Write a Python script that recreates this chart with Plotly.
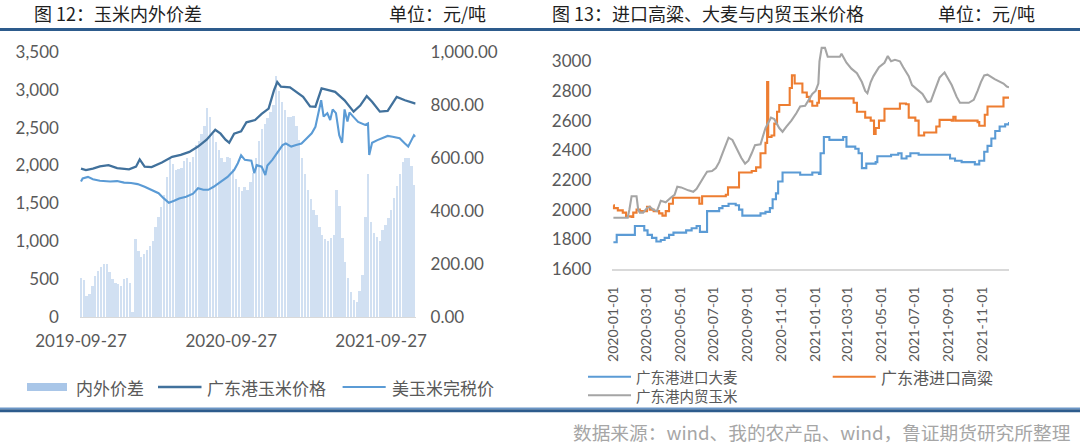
import plotly.graph_objects as go
import pandas as pd

# ---------------- Figure 12 data ----------------
gd_dates = ["2019-09-27","2019-10-09","2019-10-26","2019-11-12","2019-12-03","2019-12-24","2020-01-22","2020-02-08","2020-02-17","2020-02-29",
            "2020-03-17","2020-04-11","2020-05-06","2020-05-27","2020-06-17","2020-07-08","2020-07-29","2020-08-19","2020-09-01","2020-09-13",
            "2020-09-22","2020-10-04","2020-10-21","2020-11-03","2020-11-24","2020-12-10","2020-12-27","2021-01-09","2021-01-17","2021-01-26",
            "2021-02-17","2021-03-04","2021-03-21","2021-04-07","2021-04-20","2021-05-05","2021-05-19","2021-06-07","2021-06-30","2021-07-22",
            "2021-08-07","2021-08-23","2021-09-05","2021-09-24","2021-10-13","2021-11-04","2021-11-24","2021-12-15","2021-12-20"]
gd_vals = [1960,1940,1960,1990,2005,1965,1950,1985,2080,1985,
           1980,2040,2115,2140,2180,2250,2340,2470,2420,2340,
           2300,2420,2450,2570,2600,2680,2750,2990,3100,3040,
           3030,2975,2905,2780,2775,3015,3000,2970,2860,2710,
           2790,2915,2840,2710,2720,2905,2860,2830,2815]

us_dates = ["2019-09-27","2019-10-01","2019-10-14","2019-10-26","2019-11-12","2019-12-07","2019-12-24","2020-01-10","2020-01-27","2020-02-12",
            "2020-02-29","2020-03-17","2020-04-03","2020-04-15","2020-04-28","2020-05-11","2020-05-23","2020-06-09","2020-06-26","2020-07-08",
            "2020-07-21","2020-08-02","2020-08-15","2020-09-01","2020-09-18","2020-10-04","2020-10-13","2020-10-21","2020-10-30","2020-11-15",
            "2020-11-22","2020-11-28","2020-12-10","2020-12-19","2020-12-24","2021-01-05","2021-01-13","2021-01-21","2021-01-30","2021-02-07",
            "2021-02-20","2021-03-04","2021-03-17","2021-03-30","2021-04-11","2021-04-20","2021-04-28","2021-05-04","2021-05-10","2021-05-19",
            "2021-05-26","2021-06-01","2021-06-09","2021-06-17","2021-06-24","2021-06-30","2021-07-07","2021-07-12","2021-07-21","2021-08-02",
            "2021-08-19","2021-08-26","2021-08-29","2021-09-05","2021-09-18","2021-09-30","2021-10-13","2021-10-25","2021-11-11","2021-11-24",
            "2021-12-02","2021-12-10","2021-12-16","2021-12-20"]
us_vals = [1790,1830,1850,1820,1800,1790,1795,1775,1770,1755,
           1720,1680,1635,1570,1510,1535,1565,1590,1630,1700,
           1680,1680,1720,1785,1850,1940,2030,2135,2075,2065,
           1900,2005,1985,1875,2000,2075,2140,2190,2270,2290,
           2250,2270,2290,2360,2425,2510,2710,2860,2645,2690,
           2600,2740,2690,2400,2300,2740,2580,2700,2645,2575,
           2535,2555,2140,2300,2335,2360,2390,2380,2360,2290,
           2250,2335,2400,2380]

spread_start = "2019-09-27"   # weekly observations
spread_vals = [150,140,80,90,120,155,175,190,203,200,
               170,145,130,125,120,145,150,130,20,295,
               250,230,240,255,270,290,340,380,415,460,
               530,600,580,555,560,565,590,600,585,605,
               650,665,690,720,790,755,690,660,630,600,
               585,605,600,560,520,490,475,490,480,510,
               545,600,665,710,730,750,775,800,910,855,
               810,780,755,755,760,720,670,600,540,480,
               445,405,385,340,310,295,290,300,310,480,
               420,300,210,150,95,65,60,100,160,380,
               540,360,320,305,290,330,350,375,405,450,
               495,540,585,600,600,570,500]
spread_dates = pd.date_range(spread_start, periods=len(spread_vals), freq="7D")

left_ticks = ["2019-09-27", "2020-09-27", "2021-09-27"]
left_y_ticks = [0, 500, 1000, 1500, 2000, 2500, 3000, 3500]
right_y_ticks = [0, 200, 400, 600, 800, 1000]

# ---------------- Figure 13 data ----------------
barley_dates = ["2020-01-01","2020-01-07","2020-02-09","2020-02-26","2020-03-03","2020-03-11","2020-03-19","2020-03-27","2020-04-03","2020-04-11",
                "2020-04-19","2020-05-12","2020-05-22","2020-05-31","2020-06-06","2020-06-19","2020-07-11","2020-07-17","2020-07-28","2020-08-10",
                "2020-08-16","2020-08-22","2020-09-18","2020-09-24","2020-10-03","2020-10-11","2020-10-16","2020-10-22","2020-10-26","2020-11-03",
                "2020-12-05","2020-12-27","2021-01-08","2021-01-11","2021-01-17","2021-01-27","2021-02-21","2021-02-27","2021-03-15","2021-03-21",
                "2021-03-27","2021-04-04","2021-04-21","2021-04-24","2021-05-19","2021-06-01","2021-06-07","2021-06-16","2021-06-23","2021-07-08",
                "2021-08-24","2021-09-03","2021-09-12","2021-09-24","2021-10-18","2021-10-26","2021-11-04","2021-11-10","2021-11-17","2021-11-24",
                "2021-12-02","2021-12-12","2021-12-19"]
barley_vals = [1780,1830,1890,1860,1830,1810,1785,1795,1810,1830,
               1845,1860,1875,1890,1850,1990,2010,2025,2040,2030,
               2000,1960,1960,1975,1985,2010,2070,2110,2190,2250,
               2235,2250,2240,2380,2490,2470,2490,2425,2410,2380,
               2280,2310,2320,2360,2370,2380,2345,2360,2380,2370,
               2370,2345,2330,2320,2305,2330,2390,2430,2480,2530,
               2560,2575,2590]

sorghum_dates = ["2020-01-01","2020-01-02","2020-01-09","2020-01-18","2020-01-24","2020-02-03","2020-02-06","2020-02-12","2020-02-18","2020-03-02",
                 "2020-03-07","2020-03-14","2020-03-24","2020-03-30","2020-04-05","2020-04-11","2020-04-18","2020-05-31","2020-06-05","2020-06-10",
                 "2020-07-23","2020-07-27","2020-08-16","2020-09-08","2020-09-16","2020-09-24","2020-10-03","2020-10-06","2020-10-08","2020-10-14",
                 "2020-10-19","2020-10-24","2020-10-28","2020-11-16","2020-11-20","2020-11-25","2020-12-09","2020-12-17","2020-12-22","2020-12-27",
                 "2021-01-05","2021-01-08","2021-01-10","2021-03-05","2021-03-12","2021-03-18","2021-04-02","2021-04-12","2021-04-18","2021-04-21",
                 "2021-04-27","2021-05-07","2021-06-04","2021-06-15","2021-06-20","2021-07-02","2021-07-08","2021-07-18","2021-08-09","2021-08-15",
                 "2021-09-06","2021-09-09","2021-09-13","2021-10-23","2021-10-26","2021-11-05","2021-11-10","2021-12-09","2021-12-19"]
sorghum_vals = [2030,2010,1995,1980,1955,1950,1980,2000,1990,2020,
                2000,1990,1975,1960,1990,2040,2080,2080,2040,2090,
                2100,2150,2250,2260,2285,2380,2450,2860,2490,2500,
                2580,2660,2705,2820,2905,2850,2790,2760,2730,2700,
                2720,2800,2750,2750,2720,2660,2620,2600,2510,2550,
                2600,2680,2715,2710,2620,2600,2500,2520,2560,2605,
                2600,2625,2600,2590,2565,2640,2695,2755,2750]

corn_dates = ["2020-01-01","2020-01-27","2020-01-30","2020-02-03","2020-02-12","2020-02-15","2020-02-18","2020-02-24","2020-03-02","2020-03-07",
              "2020-03-13","2020-03-20","2020-03-27","2020-04-05","2020-04-14","2020-04-21","2020-04-26","2020-05-03","2020-05-16","2020-05-25",
              "2020-05-31","2020-06-06","2020-06-13","2020-06-19","2020-06-28","2020-07-05","2020-07-11","2020-07-17","2020-07-23","2020-07-28",
              "2020-08-04","2020-08-08","2020-08-14","2020-08-20","2020-08-27","2020-09-02","2020-09-08","2020-09-14","2020-09-24","2020-10-03",
              "2020-10-13","2020-10-19","2020-10-28","2020-11-03","2020-11-10","2020-11-19","2020-11-28","2020-12-05","2020-12-14","2020-12-20",
              "2020-12-27","2021-01-02","2021-01-07","2021-01-09","2021-01-13","2021-01-19","2021-01-24","2021-02-15","2021-02-18","2021-02-27",
              "2021-03-08","2021-03-18","2021-03-27","2021-04-02","2021-04-06","2021-04-12","2021-04-17","2021-04-27","2021-05-07","2021-05-13",
              "2021-05-19","2021-05-26","2021-06-04","2021-06-10","2021-06-20","2021-06-26","2021-07-05","2021-07-15","2021-07-24","2021-07-30",
              "2021-08-05","2021-08-15","2021-08-24","2021-08-30","2021-09-06","2021-09-15","2021-09-21","2021-10-07","2021-10-16","2021-10-23",
              "2021-10-29","2021-11-04","2021-11-10","2021-11-23","2021-12-09","2021-12-15","2021-12-19"]
corn_vals = [1945,1945,2000,2090,2090,2000,1980,1980,2010,2020,
             2000,1990,2060,2050,2080,2100,2155,2150,2130,2120,
             2140,2180,2220,2255,2260,2280,2320,2380,2440,2485,
             2470,2440,2400,2350,2310,2330,2380,2435,2440,2550,
             2620,2610,2550,2525,2560,2600,2650,2695,2700,2740,
             2780,2800,2850,3000,3090,3090,3030,3030,3050,2990,
             2950,2920,2860,2800,2785,2860,2900,2960,2990,3035,
             3000,3010,3000,2960,2900,2840,2810,2780,2725,2730,
             2790,2890,2925,2890,2840,2760,2720,2720,2740,2800,
             2860,2905,2910,2880,2850,2830,2825]

right_y_ticks13 = [1600, 1800, 2000, 2200, 2400, 2600, 2800, 3000]

# ---------------- texts ----------------
title12 = "图 12：玉米内外价差"
title13 = "图 13：进口高粱、大麦与内贸玉米价格"
unit_text = "单位：元/吨"
names12 = ["内外价差", "广东港玉米价格", "美玉米完税价"]
names13 = ["广东港进口大麦", "广东港进口高粱", "广东港内贸玉米"]
source_text = "数据来源：wind、我的农产品、wind，鲁证期货研究所整理"

# ---------------- styles ----------------
C_BAR = "#C9DBF0"
C_BAR_LEG = "#A9C6E8"
C_DARK = "#41719C"
C_LIGHT = "#5B9BD5"
C_BARLEY = "#5B9BD5"
C_SORG = "#ED7D31"
C_CORN = "#A5A5A5"
TICK_FONT = dict(family="Lato, 'Open Sans', sans-serif", size=17, color="#595959")
CJK = "'Noto Sans CJK SC', 'Noto Sans', sans-serif"
W, H = 1080, 444


def px(x):
    return x / W


def py(y):
    return (H - y) / H


fig = go.Figure()

fig.add_trace(go.Bar(x=spread_dates, y=spread_vals, xaxis="x", yaxis="y",
                     marker=dict(color=C_BAR, line=dict(width=0)), opacity=0.85,
                     width=4.5 * 86400000, name=names12[0], showlegend=False))
fig.add_trace(go.Scatter(x=gd_dates, y=gd_vals, xaxis="x", yaxis="y2", mode="lines",
                         line=dict(color=C_DARK, width=2.3), name=names12[1], showlegend=False))
fig.add_trace(go.Scatter(x=us_dates, y=us_vals, xaxis="x", yaxis="y2", mode="lines",
                         line=dict(color=C_LIGHT, width=2.1), name=names12[2], showlegend=False))

fig.add_trace(go.Scatter(x=barley_dates, y=barley_vals, xaxis="x2", yaxis="y3", mode="lines",
                         line=dict(color=C_BARLEY, width=2.1, shape="hv"), name=names13[0], showlegend=False))
fig.add_trace(go.Scatter(x=sorghum_dates, y=sorghum_vals, xaxis="x2", yaxis="y3", mode="lines",
                         line=dict(color=C_SORG, width=2.1, shape="hv"), name=names13[1], showlegend=False))
fig.add_trace(go.Scatter(x=corn_dates, y=corn_vals, xaxis="x2", yaxis="y3", mode="lines",
                         line=dict(color=C_CORN, width=2.1), name=names13[2], showlegend=False))

common = dict(showgrid=False, zeroline=False, ticks="", automargin=False)

fig.update_layout(
    template="none",
    width=W, height=H, autosize=False,
    margin=dict(l=0, r=0, t=0, b=0, pad=0, autoexpand=False),
    paper_bgcolor="white", plot_bgcolor="rgba(0,0,0,0)",
    bargap=0, showlegend=False,
    xaxis=dict(domain=[px(79.9), px(415.6)], anchor="y", type="date",
               range=["2019-09-24 08:00", "2021-12-20"],
               tickvals=left_ticks, ticktext=left_ticks, tickangle=0,
               showline=True, linecolor="#D9D9D9", linewidth=1,
               tickfont=TICK_FONT, ticklabelstandoff=8, **common),
    yaxis=dict(domain=[py(317.3), py(51.7)], anchor="x", side="right", range=[0, 1000],
               tickvals=right_y_ticks, tickformat=",.2f", showline=False,
               tickfont=TICK_FONT, ticklabelstandoff=14, **common),
    yaxis2=dict(overlaying="y", anchor="x", side="left", range=[0, 3500],
                tickvals=left_y_ticks, tickformat=",d", showline=False,
                tickfont=TICK_FONT, ticklabelstandoff=20, **common),
    xaxis2=dict(domain=[px(612.3), px(1009)], anchor="y3", type="date",
                range=["2019-12-30", "2021-12-19"], tick0="2020-01-01", dtick="M2",
                tickformat="%Y-%m-%d", tickangle=-90,
                showline=True, linecolor="#D9D9D9", linewidth=2,
                tickfont=dict(family="Lato, 'Open Sans', sans-serif", size=14, color="#595959"),
                ticklabelstandoff=10, **common),
    yaxis3=dict(domain=[py(269), py(31.6)], anchor="x2", range=[1600, 3200],
                tickvals=right_y_ticks13, tickformat="d", showline=False,
                tickfont=TICK_FONT, ticklabelstandoff=20, **common),
)

ann = []
shapes = []


def text(x, y, s, size, color, xanchor="left"):
    ann.append(dict(x=px(x), y=py(y), xref="paper", yref="paper", text=s, showarrow=False,
                    xanchor=xanchor, yanchor="middle", align="left",
                    font=dict(family=CJK, size=size, color=color)))


# titles
text(32, 13, title12, 18, "#1f1f1f")
text(488, 13, unit_text, 18, "#1f1f1f", xanchor="right")
text(550, 13, title13, 18, "#1f1f1f")
text(1037, 13, unit_text, 18, "#1f1f1f", xanchor="right")

# separator lines
shapes.append(dict(type="line", xref="paper", yref="paper", x0=0, x1=1, y0=py(29.5), y1=py(29.5),
                   line=dict(color="#2D5B8C", width=3)))
shapes.append(dict(type="line", xref="paper", yref="paper", x0=0, x1=1, y0=py(408.3), y1=py(408.3),
                   line=dict(color="#6A95C6", width=1.5)))
shapes.append(dict(type="line", xref="paper", yref="paper", x0=0, x1=1, y0=py(410.7), y1=py(410.7),
                   line=dict(color="#2D5B8C", width=3)))

# legend of figure 12
shapes.append(dict(type="rect", xref="paper", yref="paper", x0=px(27), x1=px(67), y0=py(391), y1=py(383),
                   fillcolor=C_BAR_LEG, line=dict(width=0)))
text(74, 387, names12[0], 17, "#595959")
shapes.append(dict(type="line", xref="paper", yref="paper", x0=px(158), x1=px(201.5), y0=py(387), y1=py(387),
                   line=dict(color=C_DARK, width=2.3)))
text(205, 387, names12[1], 17, "#595959")
shapes.append(dict(type="line", xref="paper", yref="paper", x0=px(342.6), x1=px(385.7), y0=py(387), y1=py(387),
                   line=dict(color=C_LIGHT, width=2.1)))
text(390, 387, names12[2], 17, "#595959")

# legend of figure 13 (left column as one two-line text block)
for (lx, ly, col) in [(588, 376.7, C_BARLEY), (588, 395.3, C_CORN), (832.7, 376.7, C_SORG)]:
    shapes.append(dict(type="line", xref="paper", yref="paper", x0=px(lx), x1=px(lx + 43), y0=py(ly), y1=py(ly),
                       line=dict(color=col, width=2.1)))
text(634, 386, names13[0] + "<br>" + names13[2], 14.5, "#595959")
text(878.7, 376.7, names13[1], 16, "#595959")

# source
text(571, 431, source_text, 18.7, "#A6A6A6")

fig.update_layout(annotations=ann, shapes=shapes)

fig.write_html("out.html", config={"displayModeBar": False, "responsive": False},
               post_script="document.body.style.margin='0';document.body.style.overflow='hidden';")
